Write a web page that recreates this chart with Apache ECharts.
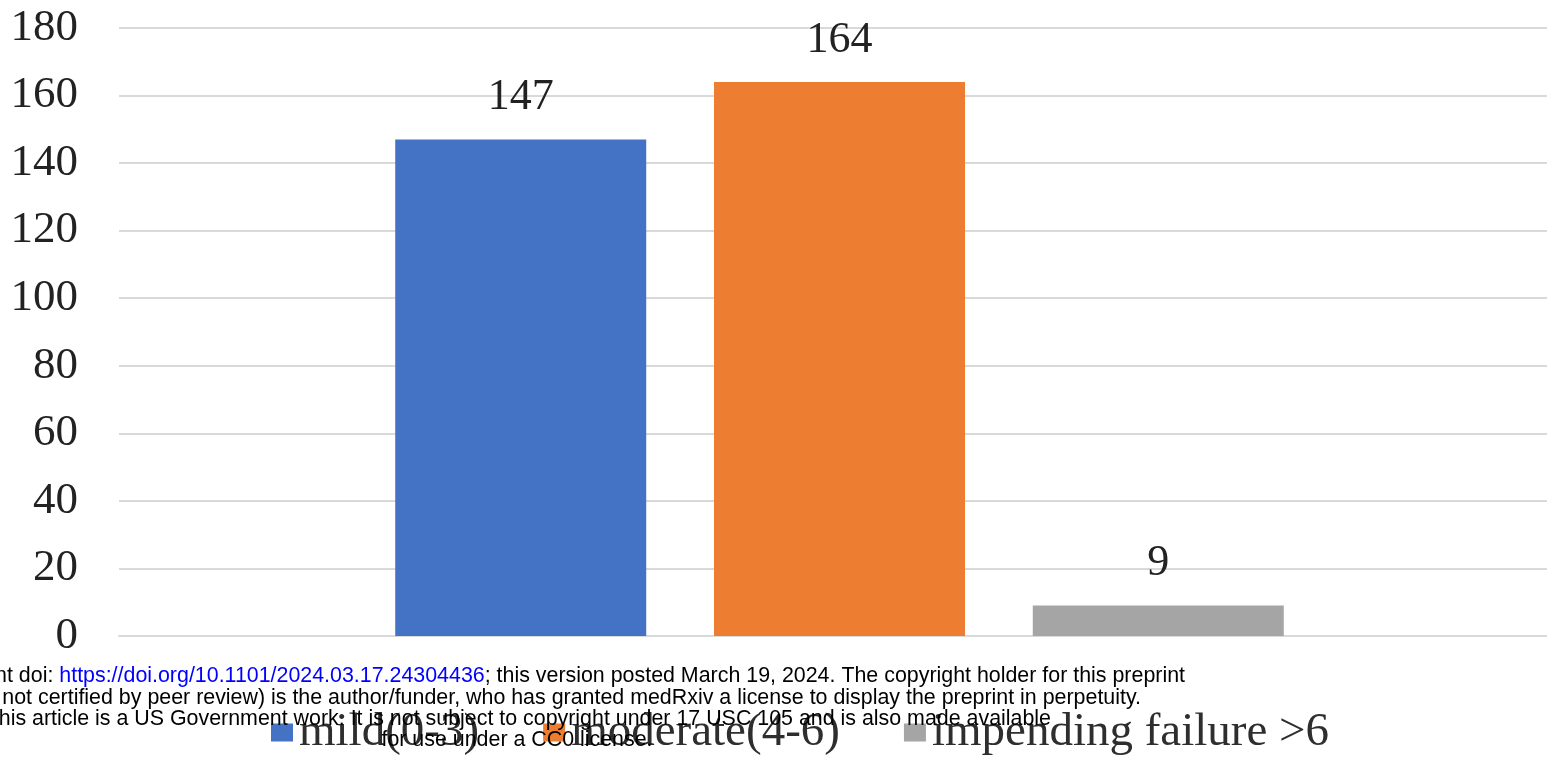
<!DOCTYPE html>
<html>
<head>
<meta charset="utf-8">
<script src="https://cdn.jsdelivr.net/npm/echarts@6/dist/echarts.min.js"></script>
<style>
html,body{margin:0;padding:0;overflow:hidden;background:#fff;}
#chart{width:1560px;height:766px;}
</style>
</head>
<body>
<div id="chart"></div>
<script>
const categories = [''];
const seriesNames = ['mild(0-3)', 'moderate(4-6)', 'impending failure >6'];
const seriesValues = [147, 164, 9];
const seriesColors = ['#4472C4', '#ED7D31', '#A5A5A5'];
const yMin = 0, yMax = 180, yStep = 20;
const footerLines = [
  ['medRxiv preprint doi: ', 'https://doi.org/10.1101/2024.03.17.24304436', '; this version posted March 19, 2024. The copyright holder for this preprint'],
  ['(which was not certified by peer review) is the author/funder, who has granted medRxiv a license to display the preprint in perpetuity.'],
  ['This article is a US Government work. It is not subject to copyright under 17 USC 105 and is also made available'],
  ['for use under a CC0 license.']
];

const chart = echarts.init(document.getElementById('chart'));
const serif = "'Liberation Serif', 'Times New Roman', serif";
const sans = "'Liberation Sans', Arial, sans-serif";

const series = seriesNames.map((name, i) => ({
  name: name,
  type: 'bar',
  data: [seriesValues[i]],
  barWidth: 251,
  barGap: '27%',
  itemStyle: { color: seriesColors[i] },
  label: {
    show: true,
    position: 'top',
    distance: 20,
    fontFamily: serif,
    fontSize: 44,
    color: '#222'
  }
}));

function footerText(parts) {
  if (parts.length === 1) return '{a|' + parts[0] + '}';
  return '{a|' + parts[0] + '}{b|' + parts[1] + '}{a|' + parts[2] + '}';
}
const fs = 21.4;
const footerAnchors = [
  { x: 1185, y: 676, align: 'right' },
  { x: 1141, y: 698, align: 'right' },
  { x: 1051, y: 719, align: 'right' },
  { x: 517, y: 740, align: 'center' }
];
const graphics = footerLines.map((parts, i) => ({
  type: 'text',
  z: 100,
  x: footerAnchors[i].x,
  y: footerAnchors[i].y,
  style: {
    text: footerText(parts),
    align: footerAnchors[i].align,
    verticalAlign: 'middle',
    rich: {
      a: { fontFamily: sans, fontSize: fs, fill: '#000', color: '#000' },
      b: { fontFamily: sans, fontSize: fs, fill: '#0000ff', color: '#0000ff' }
    },
    font: fs + 'px ' + sans,
    fill: '#000'
  }
}));

chart.setOption({
  animation: false,
  backgroundColor: '#fff',
  grid: { left: 119, right: 0, top: 28, bottom: 130 },
  legend: {
    data: seriesNames,
    left: 266,
    top: 704,
    icon: 'rect',
    itemWidth: 22,
    itemHeight: 18,
    itemGap: 64,
    textStyle: {
      fontFamily: serif,
      fontSize: 47,
      lineHeight: 47,
      color: '#2e2e2e',
      padding: [0, 0, 0, 1]
    }
  },
  xAxis: {
    type: 'category',
    data: categories,
    axisLine: { show: true, lineStyle: { color: '#d9d9d9', width: 2 } },
    axisTick: { show: false },
    axisLabel: { show: false }
  },
  yAxis: {
    type: 'value',
    min: yMin,
    max: yMax,
    interval: yStep,
    axisLine: { show: false },
    axisTick: { show: false },
    splitLine: { lineStyle: { color: '#d9d9d9', width: 2 } },
    axisLabel: {
      fontFamily: serif,
      fontSize: 45,
      color: '#222',
      margin: 41
    }
  },
  series: series,
  graphic: graphics
});
</script>
</body>
</html>
